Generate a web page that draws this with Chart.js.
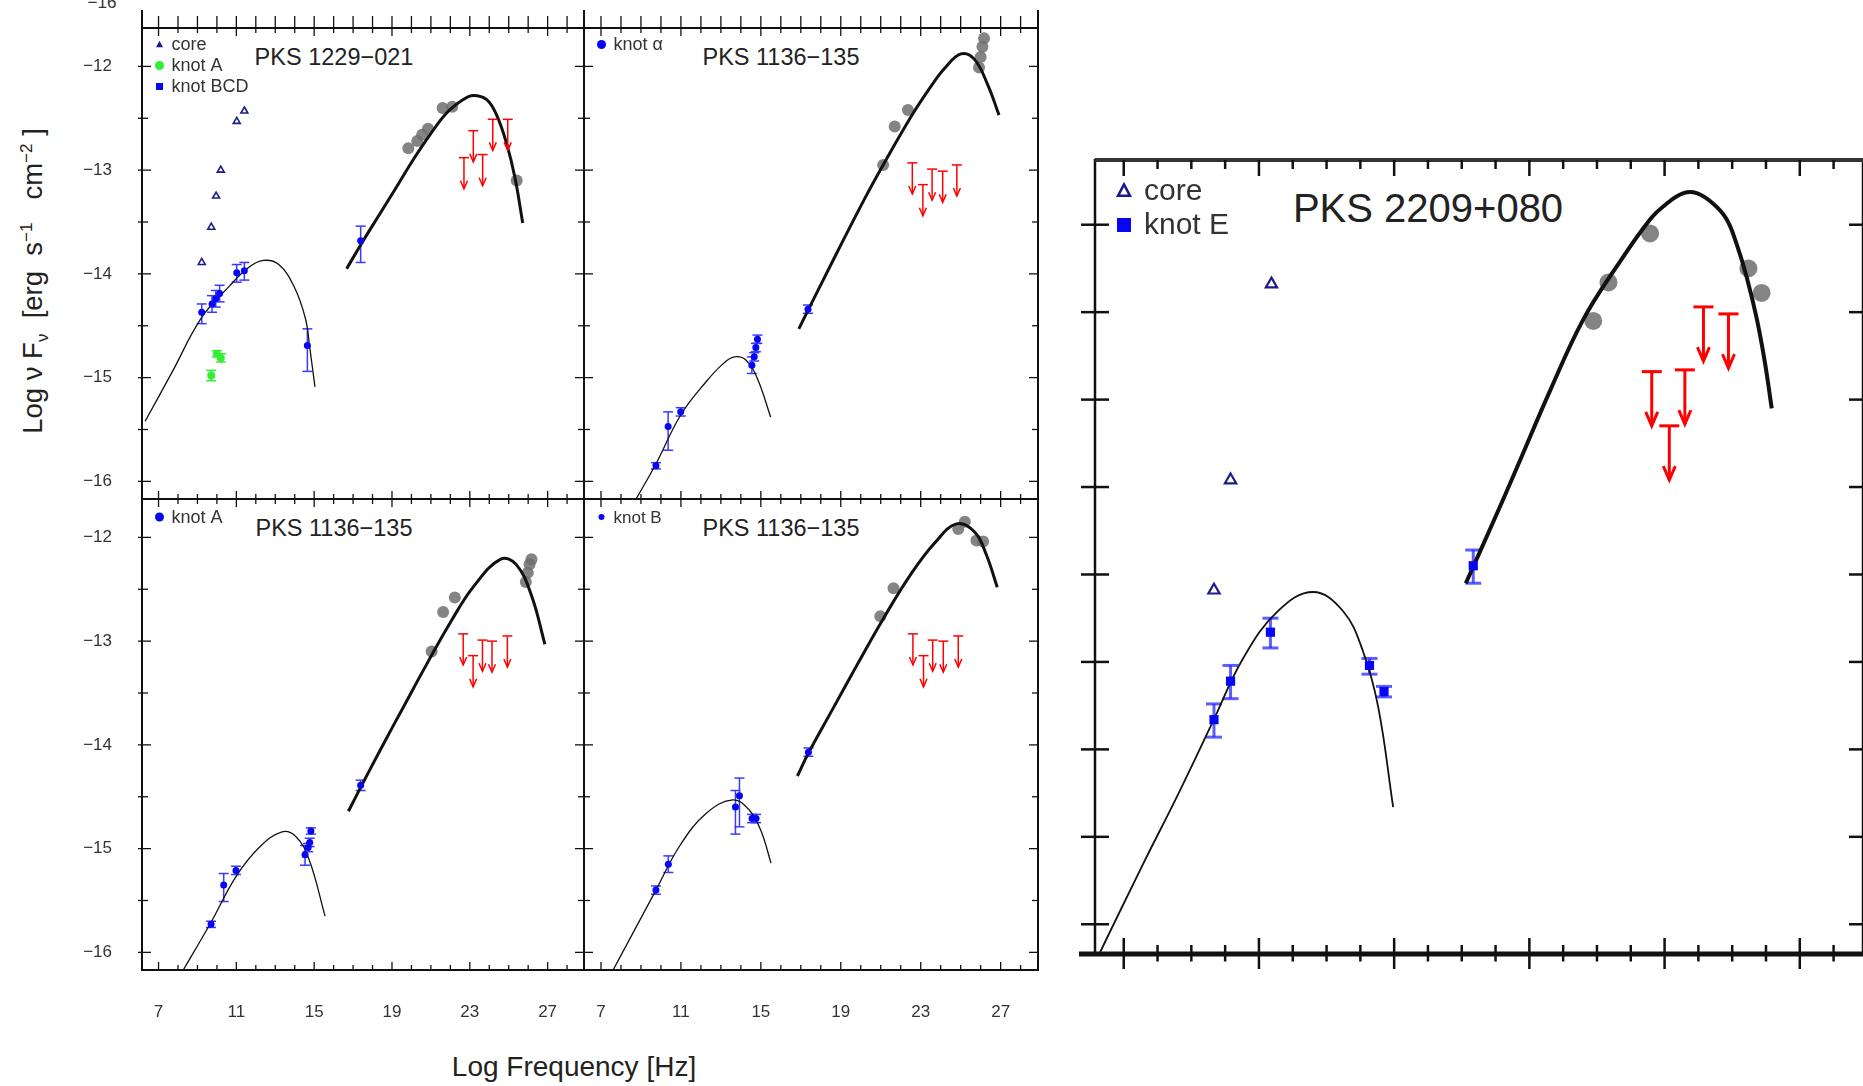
<!DOCTYPE html>
<html>
<head>
<meta charset="utf-8">
<title>SED of jet knots</title>
<script src="https://cdn.jsdelivr.net/npm/chart.js@4.4.0/dist/chart.umd.min.js"></script>
<style>
  html, body { margin: 0; padding: 0; background: #fff; overflow: hidden; width: 1863px; height: 1086px; }
  canvas { position: absolute; }
  .lbl { position: absolute; font-family: 'Liberation Sans', Arial, sans-serif; color: #222; white-space: nowrap; transform: translate(-50%, -50%); }
  .lbl sub, .lbl sup { font-size: 0.62em; }
</style>
</head>
<body>
<div class="lbl" style="left:334px; top:57px; font-size:23.5px">PKS 1229&minus;021</div>
<div class="lbl" style="left:781px; top:57px; font-size:23.5px">PKS 1136&minus;135</div>
<div class="lbl" style="left:334px; top:528px; font-size:23.5px">PKS 1136&minus;135</div>
<div class="lbl" style="left:781px; top:528px; font-size:23.5px">PKS 1136&minus;135</div>
<div class="lbl" style="left:1428px; top:208px; font-size:40px">PKS 2209+080</div>
<div class="lbl" style="left:574px; top:1067px; font-size:28px">Log Frequency [Hz]</div>
<div class="lbl" style="left:35px; top:281px; font-size:27.5px; transform: translate(-50%, -50%) rotate(-90deg)">Log &nu; F<sub>&nu;</sub> &nbsp;[erg &nbsp;s<sup>&minus;1</sup> &nbsp;&nbsp;cm<sup>&minus;2</sup> ]</div>
<div class="lbl" style="left:102px; top:3px; font-size:17px; color:#333">&minus;16</div>
<script>
// shared axes
const xMin = 6.15, xMax = 28.87, yMin = -16.17, yMax = -11.63;
const xTicks = [7, 11, 15, 19, 23, 27];
const yTicks = [-16, -15, -14, -13, -12];

// PKS 1229-021 (core, knot A, knot BCD)
const p1CoreX = [9.22, 9.71, 9.96, 10.20, 11.02, 11.41];
const p1CoreY = [-13.89, -13.55, -13.25, -13.00, -12.53, -12.43];
const p1KnotAX = [9.71, 10.00, 10.20];
const p1KnotAY = [-14.98, -14.77, -14.81];
const p1KnotALo = [-15.03, -14.80, -14.85];
const p1KnotAHi = [-14.93, -14.74, -14.77];
const p1BcdX = [9.22, 9.75, 9.94, 10.14, 11.02, 11.41, 14.65, 17.39];
const p1BcdY = [-14.37, -14.29, -14.24, -14.19, -13.99, -13.97, -14.69, -13.68];
const p1BcdLo = [-14.48, -14.37, -14.32, -14.27, -14.08, -14.06, -14.94, -13.89];
const p1BcdHi = [-14.29, -14.21, -14.16, -14.11, -13.91, -13.89, -14.53, -13.54];
const p1GamX = [19.84, 20.30, 20.55, 20.85, 21.60, 22.10, 25.41];
const p1GamY = [-12.79, -12.72, -12.66, -12.60, -12.40, -12.39, -13.10];
const p1UlX = [22.70, 23.18, 23.66, 24.18, 24.95];
const p1UlY = [-12.88, -12.62, -12.85, -12.51, -12.51];
const p1SynX = [6.31, 7.69, 9.22, 10.63, 11.61, 12.39, 13.18, 13.96, 14.55, 14.78, 15.04];
const p1SynY = [-15.42, -14.95, -14.42, -14.12, -13.94, -13.87, -13.91, -14.12, -14.43, -14.72, -15.09];
const p1IcX = [16.67, 17.52, 18.38, 19.24, 20.09, 20.95, 21.81, 22.66, 23.18, 23.87, 24.38, 24.90, 25.33, 25.72];
const p1IcY = [-13.95, -13.68, -13.42, -13.16, -12.90, -12.66, -12.45, -12.32, -12.28, -12.32, -12.47, -12.75, -13.08, -13.51];

// PKS 1136-135 knot alpha
const p2KnotX = [9.75, 10.36, 10.99, 14.55, 14.67, 14.75, 14.83, 17.36];
const p2KnotY = [-15.85, -15.47, -15.33, -14.88, -14.80, -14.71, -14.63, -14.34];
const p2KnotLo = [-15.88, -15.70, -15.37, -14.96, -14.84, -14.75, -14.67, -14.38];
const p2KnotHi = [-15.82, -15.33, -15.29, -14.80, -14.76, -14.67, -14.59, -14.30];
const p2GamX = [21.12, 21.70, 22.36, 25.92, 26.00, 26.09, 26.17];
const p2GamY = [-12.95, -12.58, -12.42, -12.01, -11.91, -11.81, -11.73];
const p2UlX = [22.58, 23.11, 23.57, 24.10, 24.81];
const p2UlY = [-12.93, -13.14, -12.99, -13.01, -12.95];
const p2SynX = [8.70, 9.78, 10.99, 12.26, 13.09, 13.67, 14.25, 14.83, 15.49];
const p2SynY = [-16.19, -15.82, -15.36, -15.04, -14.87, -14.80, -14.83, -15.01, -15.38];
const p2IcX = [16.90, 18.56, 20.21, 21.12, 22.53, 23.52, 24.19, 25.01, 25.68, 26.34, 26.92];
const p2IcY = [-14.53, -13.89, -13.27, -12.95, -12.48, -12.19, -12.02, -11.88, -11.93, -12.17, -12.47];

// PKS 1136-135 knot A
const p3KnotX = [9.70, 10.35, 10.98, 14.53, 14.69, 14.77, 14.83, 17.39];
const p3KnotY = [-15.73, -15.35, -15.21, -15.06, -14.99, -14.94, -14.83, -14.39];
const p3KnotLo = [-15.76, -15.51, -15.25, -15.16, -15.03, -14.98, -14.86, -14.44];
const p3KnotHi = [-15.70, -15.24, -15.17, -14.97, -14.95, -14.90, -14.80, -14.34];
const p3GamX = [21.04, 21.63, 22.23, 25.88, 25.98, 26.07, 26.17];
const p3GamY = [-13.10, -12.72, -12.58, -12.43, -12.34, -12.26, -12.21];
const p3UlX = [22.66, 23.17, 23.65, 24.14, 24.93];
const p3UlY = [-12.93, -13.14, -12.99, -13.00, -12.95];
const p3SynX = [8.24, 9.70, 10.98, 12.17, 13.31, 14.04, 14.73, 15.56];
const p3SynY = [-16.18, -15.71, -15.27, -14.99, -14.84, -14.88, -15.10, -15.65];
const p3IcX = [16.76, 17.39, 18.48, 19.66, 20.85, 22.03, 23.21, 24.59, 25.38, 26.17, 26.86];
const p3IcY = [-14.64, -14.41, -14.02, -13.61, -13.20, -12.81, -12.47, -12.21, -12.26, -12.56, -13.03];

// PKS 1136-135 knot B
const p4KnotX = [9.75, 10.37, 13.73, 13.93, 14.56, 14.76, 17.38];
const p4KnotY = [-15.40, -15.15, -14.60, -14.49, -14.71, -14.71, -14.07];
const p4KnotLo = [-15.44, -15.23, -14.86, -14.79, -14.75, -14.75, -14.11];
const p4KnotHi = [-15.36, -15.07, -14.44, -14.32, -14.67, -14.67, -14.03];
const p4GamX = [20.98, 21.64, 24.88, 25.21, 25.79, 26.12];
const p4GamY = [-12.76, -12.49, -11.92, -11.85, -12.03, -12.04];
const p4UlX = [22.61, 23.14, 23.60, 24.13, 24.88];
const p4UlY = [-12.93, -13.14, -12.99, -13.00, -12.95];
const p4SynX = [7.55, 9.75, 10.95, 12.27, 13.60, 14.43, 15.01, 15.51];
const p4SynY = [-16.19, -15.40, -14.97, -14.66, -14.53, -14.63, -14.83, -15.14];
const p4IcX = [16.83, 17.38, 18.58, 19.90, 21.23, 22.56, 23.72, 24.79, 25.71, 26.29, 26.83];
const p4IcY = [-14.30, -14.08, -13.66, -13.20, -12.75, -12.34, -12.05, -11.87, -11.95, -12.17, -12.48];

// PKS 2209+080 (core, knot E)
const p5CoreX = [9.67, 10.16, 11.37];
const p5CoreY = [-14.09, -13.46, -12.34];
const p5KnotX = [9.67, 10.16, 11.34, 14.27, 14.70, 17.34];
const p5KnotY = [-14.83, -14.61, -14.33, -14.52, -14.67, -13.95];
const p5KnotLo = [-14.93, -14.71, -14.42, -14.57, -14.70, -14.05];
const p5KnotHi = [-14.74, -14.52, -14.25, -14.48, -14.64, -13.86];
const p5GamX = [20.89, 21.34, 22.57, 25.48, 25.87];
const p5GamY = [-12.55, -12.33, -12.05, -12.25, -12.39];
const p5UlX = [22.62, 23.14, 23.60, 24.15, 24.89];
const p5UlY = [-12.84, -13.15, -12.83, -12.47, -12.51];
const p5SynX = [6.30, 7.56, 8.60, 9.64, 10.53, 11.56, 12.60, 13.49, 14.08, 14.53, 14.97];
const p5SynY = [-16.16, -15.66, -15.26, -14.84, -14.48, -14.21, -14.10, -14.21, -14.44, -14.76, -15.33];
const p5IcX = [17.12, 17.93, 18.63, 19.61, 20.60, 21.58, 22.57, 23.06, 23.56, 23.95, 24.44, 24.84, 25.13, 25.43, 25.73, 25.97, 26.17];
const p5IcY = [-14.05, -13.70, -13.39, -12.95, -12.54, -12.24, -11.97, -11.88, -11.82, -11.82, -11.88, -11.97, -12.11, -12.30, -12.54, -12.79, -13.05];

const NAVY = '#1c1c88', BLUE = '#0606f5', ERR = '#3a3aff', GREEN = '#33ee33', GRAY = 'rgba(110,110,110,0.85)', RED = '#ff0000';
const FONT = "'Liberation Sans', Arial, sans-serif";
const PAD = { l: 80, t: 24, r: 24, b: 64 };

const xy = (xs, ys) => xs.map((v, i) => ({ x: v, y: ys[i] }));
const fmt = v => (v < 0 ? '\u2212' : '') + Math.abs(v);

function curve(xs, ys, w) {
  return { type: 'line', data: xy(xs, ys), borderColor: '#111', borderWidth: w, pointRadius: 0,
           tension: 0.4, fill: false, order: 3 };
}
function points(xs, ys, s) {
  return { type: 'scatter', data: xy(xs, ys), showLine: false, order: s.order || 1,
           pointStyle: s.shape, pointRadius: s.r, pointBackgroundColor: s.fill,
           pointBorderColor: s.stroke, pointBorderWidth: s.bw };
}

const small = {
  gam: { shape: 'circle', r: 6, fill: GRAY, stroke: 'rgba(0,0,0,0)', bw: 0, order: 4 },
  core: { shape: 'triangle', r: 4, fill: 'rgba(255,255,255,0)', stroke: NAVY, bw: 1.6 },
  green: { shape: 'circle', r: 4, fill: GREEN, stroke: GREEN, bw: 0 },
  blue: { shape: 'circle', r: 3.5, fill: BLUE, stroke: BLUE, bw: 0 }
};
const big = {
  gam: { shape: 'circle', r: 9, fill: GRAY, stroke: 'rgba(0,0,0,0)', bw: 0, order: 4 },
  core: { shape: 'triangle', r: 6.5, fill: 'rgba(255,255,255,0)', stroke: NAVY, bw: 2.2 },
  blue: { shape: 'rect', r: 6.5, fill: BLUE, stroke: BLUE, bw: 0 }
};

const smallTicks = { xMaj: 8, xMin: 5, yMaj: 9, yMin: 6, outT: 0, outL: 0, outB: 0, w: 1.3, frame: 2 };
const bigTicks = { xMaj: 16, xMin: 9, yMaj: 14, yMin: 14, outT: 0, outL: 14, outB: 15, w: 2.5, frame: 2.5 };

const panels = [
  { box: [142, 28, 584, 499], xLabels: false, yLabels: true, ticks: { ...smallTicks, outT: 12, outL: 4 }, stub: true,
    datasets: [curve(p1SynX, p1SynY, 1.3), curve(p1IcX, p1IcY, 3), points(p1GamX, p1GamY, small.gam),
               points(p1CoreX, p1CoreY, small.core), points(p1KnotAX, p1KnotAY, small.green), points(p1BcdX, p1BcdY, small.blue)],
    errors: [{ x: p1KnotAX, lo: p1KnotALo, hi: p1KnotAHi, color: GREEN }, { x: p1BcdX, lo: p1BcdLo, hi: p1BcdHi, color: ERR }],
    limits: { x: p1UlX, y: p1UlY },
    legend: { x: 17.5, y: 16.5, dy: 21, gap: 12, font: '18px ' + FONT,
              items: [['core', 'tri', NAVY, 3.5], ['knot A', 'circle', GREEN, 4.5], ['knot BCD', 'square', BLUE, 3.5]] } },
  { box: [584, 28, 1038, 499], xLabels: false, yLabels: false, ticks: { ...smallTicks, outT: 12 }, stub: true,
    datasets: [curve(p2SynX, p2SynY, 1.3), curve(p2IcX, p2IcY, 3), points(p2GamX, p2GamY, small.gam), points(p2KnotX, p2KnotY, small.blue)],
    errors: [{ x: p2KnotX, lo: p2KnotLo, hi: p2KnotHi, color: ERR }],
    limits: { x: p2UlX, y: p2UlY },
    legend: { x: 17.5, y: 16.5, dy: 21, gap: 12, font: '18px ' + FONT, items: [['knot \u03b1', 'circle', BLUE, 4.5]] } },
  { box: [142, 499, 584, 970], xLabels: true, yLabels: true, ticks: { ...smallTicks, outL: 4 },
    datasets: [curve(p3SynX, p3SynY, 1.3), curve(p3IcX, p3IcY, 3), points(p3GamX, p3GamY, small.gam), points(p3KnotX, p3KnotY, small.blue)],
    errors: [{ x: p3KnotX, lo: p3KnotLo, hi: p3KnotHi, color: ERR }],
    limits: { x: p3UlX, y: p3UlY },
    legend: { x: 17.5, y: 18, dy: 21, gap: 12, font: '18px ' + FONT, items: [['knot A', 'circle', BLUE, 4.5]] } },
  { box: [584, 499, 1038, 970], xLabels: true, yLabels: false, ticks: { ...smallTicks },
    datasets: [curve(p4SynX, p4SynY, 1.3), curve(p4IcX, p4IcY, 3), points(p4GamX, p4GamY, small.gam), points(p4KnotX, p4KnotY, small.blue)],
    errors: [{ x: p4KnotX, lo: p4KnotLo, hi: p4KnotHi, color: ERR }],
    limits: { x: p4UlX, y: p4UlY },
    legend: { x: 17.5, y: 18, dy: 21, gap: 12, font: '17px ' + FONT, items: [['knot B', 'circle', BLUE, 3]] } },
  { box: [1095, 160, 1863, 954], xLabels: false, yLabels: false, ticks: bigTicks, isBig: true,
    datasets: [curve(p5SynX, p5SynY, 1.8), curve(p5IcX, p5IcY, 4), points(p5GamX, p5GamY, big.gam),
               points(p5CoreX, p5CoreY, big.core), points(p5KnotX, p5KnotY, big.blue)],
    errors: [{ x: p5KnotX, lo: p5KnotLo, hi: p5KnotHi, color: 'rgba(40,40,255,0.75)', w: 3, cap: 8 }],
    limits: { x: p5UlX, y: p5UlY, w: 3, cap: 10, len: 0.31, hw: 6, hh: 14 },
    legend: { x: 29, y: 31, dy: 34, gap: 20, font: '30px ' + FONT,
              items: [['core', 'otri', NAVY, 6], ['knot E', 'square', BLUE, 7]] } }
];

function seg(ctx, x1, y1, x2, y2) { ctx.beginPath(); ctx.moveTo(x1, y1); ctx.lineTo(x2, y2); ctx.stroke(); }

function marker(ctx, shape, x, y, s, color) {
  ctx.fillStyle = color; ctx.strokeStyle = color;
  ctx.beginPath();
  if (shape === 'circle') { ctx.arc(x, y, s, 0, Math.PI * 2); ctx.fill(); }
  else if (shape === 'square') { ctx.fillRect(x - s, y - s, 2 * s, 2 * s); }
  else {
    ctx.moveTo(x, y - s * 1.1); ctx.lineTo(x + s, y + s * 0.8); ctx.lineTo(x - s, y + s * 0.8); ctx.closePath();
    if (shape === 'otri') { ctx.lineWidth = 2.5; ctx.stroke(); } else ctx.fill();
  }
}

function panelPlugin(p) {
  return {
    id: 'sedPanel',
    beforeDatasetsDraw(chart) {
      const { ctx, chartArea: a, scales: { x, y } } = chart;
      ctx.save();
      ctx.beginPath(); ctx.rect(a.left, a.top, a.right - a.left, a.bottom - a.top); ctx.clip();
      p.errors.forEach(e => {
        ctx.strokeStyle = e.color; ctx.lineWidth = e.w || 1.5;
        const cap = e.cap || 5;
        e.x.forEach((xv, i) => {
          const px = x.getPixelForValue(xv), lo = y.getPixelForValue(e.lo[i]), hi = y.getPixelForValue(e.hi[i]);
          seg(ctx, px, lo, px, hi);
          seg(ctx, px - cap, lo, px + cap, lo);
          seg(ctx, px - cap, hi, px + cap, hi);
        });
      });
      ctx.restore();
    },
    afterDatasetsDraw(chart) {
      const { ctx, scales: { x, y } } = chart;
      const u = p.limits;
      const cap = u.cap || 5, len = u.len || 0.3, hw = u.hw || 3.5, hh = u.hh || 8;
      ctx.save();
      ctx.strokeStyle = RED; ctx.lineWidth = u.w || 1.5;
      u.x.forEach((xv, i) => {
        const px = x.getPixelForValue(xv), top = y.getPixelForValue(u.y[i]), bot = y.getPixelForValue(u.y[i] - len);
        seg(ctx, px, top, px, bot);
        seg(ctx, px - cap, top, px + cap, top);
        ctx.beginPath(); ctx.moveTo(px - hw, bot - hh); ctx.lineTo(px, bot); ctx.lineTo(px + hw, bot - hh); ctx.stroke();
      });
      ctx.restore();
    },
    afterDraw(chart) {
      const { ctx, chartArea: a, scales: { x, y } } = chart;
      const t = p.ticks;
      ctx.save();
      ctx.strokeStyle = '#111';
      ctx.lineWidth = t.frame;
      ctx.strokeRect(a.left, a.top, a.right - a.left, a.bottom - a.top);
      if (p.isBig) {
        ctx.lineWidth = 5; seg(ctx, a.left - 16, a.bottom, a.right, a.bottom);
        ctx.strokeStyle = '#333'; ctx.lineWidth = 4; seg(ctx, a.left, a.top, a.right, a.top);
        ctx.strokeStyle = '#111';
      }
      if (p.stub) {
        seg(ctx, a.left, a.top, a.left, a.top - 18);
        seg(ctx, a.right, a.top, a.right, a.top - 18);
      }
      ctx.lineWidth = t.w;
      for (let v = 7; v <= 28; v++) {
        const px = x.getPixelForValue(v);
        const major = (v - 7) % 4 === 0;
        const len = major ? t.xMaj : t.xMin;
        seg(ctx, px, a.bottom + (major ? t.outB : t.outB / 2), px, a.bottom - len);
        seg(ctx, px, a.top - t.outT, px, a.top + len);
      }
      for (let v = -16; v <= -11.75; v += 0.5) {
        const py = y.getPixelForValue(v);
        const len = Number.isInteger(v) ? t.yMaj : t.yMin;
        seg(ctx, a.left - t.outL, py, a.left + len, py);
        seg(ctx, a.right, py, a.right - len, py);
      }
      const L = p.legend;
      ctx.textBaseline = 'middle';
      L.items.forEach((it, i) => {
        const mx = a.left + L.x, my = a.top + L.y + i * L.dy;
        marker(ctx, it[1], mx, my, it[3], it[2]);
        ctx.fillStyle = '#333'; ctx.font = L.font;
        ctx.fillText(it[0], mx + L.gap, my + 1);
      });
      ctx.restore();
    }
  };
}

panels.forEach(p => {
  const [L, T, R, B] = p.box;
  const cv = document.createElement('canvas');
  cv.width = R - L + PAD.l + PAD.r;
  cv.height = B - T + PAD.t + PAD.b;
  cv.style.left = (L - PAD.l) + 'px';
  cv.style.top = (T - PAD.t) + 'px';
  document.body.appendChild(cv);

  new Chart(cv, {
    type: 'scatter',
    data: { datasets: p.datasets },
    options: {
      responsive: false,
      animation: false,
      devicePixelRatio: 1,
      layout: { padding: { top: PAD.t, right: PAD.r, left: 0, bottom: 0 } },
      plugins: { legend: { display: false }, tooltip: { enabled: false } },
      scales: {
        x: {
          type: 'linear', min: xMin, max: xMax,
          grid: { display: false }, border: { display: false },
          afterBuildTicks: s => { s.ticks = xTicks.map(v => ({ value: v })); },
          ticks: { display: p.xLabels, padding: 24, color: '#333', maxRotation: 0, font: { family: FONT, size: 17 }, callback: fmt },
          afterFit: s => { s.height = PAD.b; s.paddingLeft = 0; s.paddingRight = 0; }
        },
        y: {
          type: 'linear', min: yMin, max: yMax,
          grid: { display: false }, border: { display: false },
          afterBuildTicks: s => { s.ticks = yTicks.map(v => ({ value: v })); },
          ticks: { display: p.yLabels, padding: 22, color: '#333', font: { family: FONT, size: 17 }, callback: fmt },
          afterFit: s => { s.width = PAD.l; s.paddingTop = 0; s.paddingBottom = 0; }
        }
      }
    },
    plugins: [panelPlugin(p)]
  });
});
</script>
</body>
</html>
